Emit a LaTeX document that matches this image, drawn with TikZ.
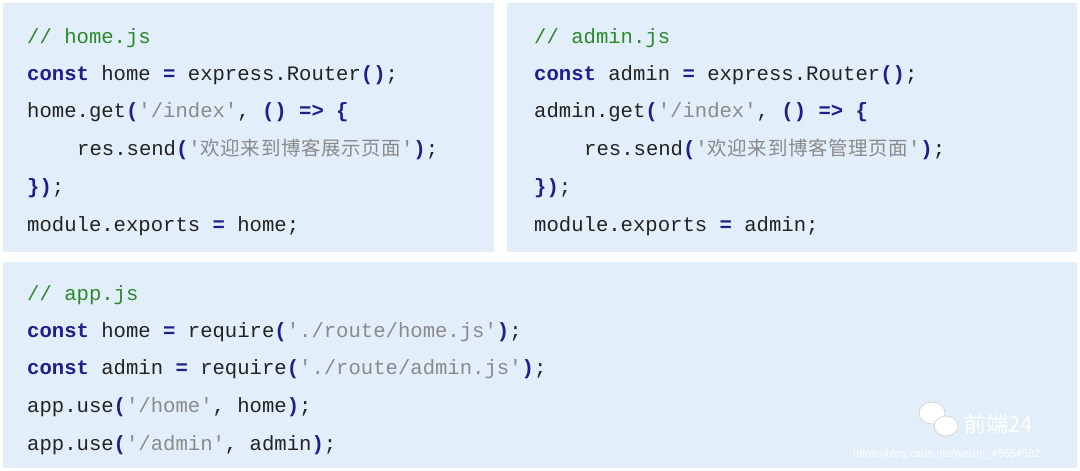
\documentclass[tikz,border=0pt]{standalone}
\usepackage{fontspec}
\setmonofont{Liberation Mono}
\newfontfamily\cjk{Noto Sans CJK SC}
\newfontfamily\sansf{Liberation Sans}
\definecolor{boxbg}{HTML}{E3EEFB}
\definecolor{kwc}{HTML}{1E1E8C}
\definecolor{cmc}{HTML}{2A8A2A}
\definecolor{stc}{HTML}{8A8A8A}
\definecolor{txc}{HTML}{222222}
\newcommand{\kwd}[1]{\textbf{\color{kwc}#1}}
\newcommand{\cmt}[1]{{\color{cmc}#1}}
\newcommand{\strg}[1]{{\color{stc}#1}}
\newcommand{\zh}[1]{{\color{stc}\cjk\fontsize{19.5}{24}\selectfont\addfontfeature{LetterSpace=3}#1}}
\begin{document}
\begin{tikzpicture}[x=1pt,y=-1pt,
  panel/.style={fill=boxbg,draw=none},
  code/.style={anchor=base west,inner sep=0pt,font=\ttfamily\fontsize{20.6}{24}\selectfont,text=txc}]
\useasboundingbox (0,0) rectangle (1080,471);
\fill[white] (0,0) rectangle (1080,471);
\fill[panel] (3,3) rectangle (494,252);
\fill[panel] (507,3) rectangle (1077,252);
\fill[panel] (3,262) rectangle (1077,468);
% home.js
\node[code] (h1) at (27,43) {\cmt{// home.js}};
\node[code] (h2) at (27,80) {\kwd{const} home \kwd{=} express.Router\kwd{()};};
\node[code] (h3) at (27,117) {home.get\kwd{(}\strg{'/index'}, \kwd{()} \kwd{=>} \kwd{\{}};
\node[code] (h4) at (77,155) {res.send\kwd{(}\strg{'}\zh{欢迎来到博客展示页面}\strg{'}\kwd{)};};
\node[code] (h5) at (27,193) {\kwd{\})};};
\node[code] (h6) at (27,231) {module.exports \kwd{=} home;};
% admin.js
\node[code] (a1) at (534,43) {\cmt{// admin.js}};
\node[code] (a2) at (534,80) {\kwd{const} admin \kwd{=} express.Router\kwd{()};};
\node[code] (a3) at (534,117) {admin.get\kwd{(}\strg{'/index'}, \kwd{()} \kwd{=>} \kwd{\{}};
\node[code] (a4) at (584,155) {res.send\kwd{(}\strg{'}\zh{欢迎来到博客管理页面}\strg{'}\kwd{)};};
\node[code] (a5) at (534,193) {\kwd{\})};};
\node[code] (a6) at (534,231) {module.exports \kwd{=} admin;};
% app.js
\node[code] (p1) at (27,300) {\cmt{// app.js}};
\node[code] (p2) at (27,337) {\kwd{const} home \kwd{=} require\kwd{(}\strg{'./route/home.js'}\kwd{)};};
\node[code] (p3) at (27,374) {\kwd{const} admin \kwd{=} require\kwd{(}\strg{'./route/admin.js'}\kwd{)};};
\node[code] (p4) at (27,412) {app.use\kwd{(}\strg{'/home'}, home\kwd{)};};
\node[code] (p5) at (27,450) {app.use\kwd{(}\strg{'/admin'}, admin\kwd{)};};
% watermark
\fill[white,draw=black!25] (932,413) ellipse (13 and 11);
\fill[white,draw=black!25] (946,426) ellipse (12 and 10);
\node[anchor=west,inner sep=0pt,text=white,font=\cjk\fontsize{22}{24}\selectfont] (wm) at (964,424) {前端24};
\node[anchor=west,inner sep=0pt,text=white,font=\sansf\fontsize{11}{12}\selectfont] (url) at (853,455) {https://blog.csdn.net/weixin\_45654582};
\end{tikzpicture}
\end{document}
